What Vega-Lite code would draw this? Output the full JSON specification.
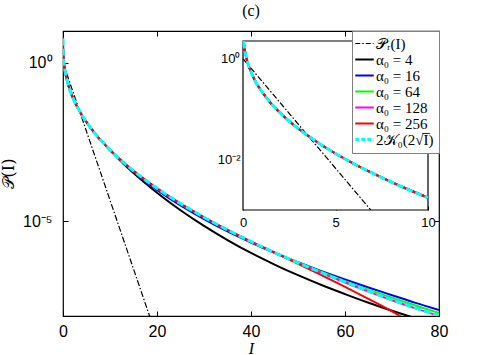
{
  "$schema": "https://vega.github.io/schema/vega-lite/v6.json",
  "width": 376,
  "height": 285,
  "autosize": {"type": "none"},
  "padding": {"left": 63, "top": 31, "right": 46, "bottom": 39},
  "background": "white",
  "title": {"text": "(c)", "font": "Liberation Serif", "fontSize": 16, "fontWeight": "normal", "color": "black", "offset": 12, "anchor": "middle"},
  "config": {
    "view": {"stroke": "black", "strokeWidth": 1.2},
    "axis": {"grid": false, "domain": false, "tickColor": "black", "labelColor": "black", "labelFont": "Liberation Sans", "titleColor": "black", "labelFlush": false, "labelOverlap": false},
    "legend": {
      "orient": "top-right", "offset": 0, "symbolType": "stroke", "symbolSize": 340, "symbolStrokeWidth": 2,
      "labelFont": "Liberation Serif", "labelFontSize": 15, "labelColor": "black", "fillColor": "white",
      "strokeColor": "#808080", "padding": 5, "rowPadding": 0, "labelOffset": 4, "labelLimit": 300
    }
  },
  "datasets": {
    "curves": [
      {"I": 0, "P": 1, "s": "PR"},
      {"I": 2, "P": 0.13534, "s": "PR"},
      {"I": 4, "P": 0.018316, "s": "PR"},
      {"I": 6.9, "P": 0.0010078, "s": "PR"},
      {"I": 10, "P": 4.54e-5, "s": "PR"},
      {"I": 15, "P": 3.059e-7, "s": "PR"},
      {"I": 18.4, "P": 1.0225e-8, "s": "PR"},
      {"I": 19, "P": 5.603e-9, "s": "PR"},

      {"I": 0.001, "P": 5.761, "s": "a4"}, {"I": 0.01, "P": 3.505, "s": "a4"}, {"I": 0.04, "P": 2.229, "s": "a4"}, {"I": 0.1, "P": 1.4726, "s": "a4"}, {"I": 0.2, "P": 0.9815, "s": "a4"}, {"I": 0.3, "P": 0.7359, "s": "a4"}, {"I": 0.5, "P": 0.4783, "s": "a4"}, {"I": 0.7, "P": 0.3424, "s": "a4"}, {"I": 1, "P": 0.2278, "s": "a4"}, {"I": 1.5, "P": 0.1324, "s": "a4"}, {"I": 2, "P": 0.08478, "s": "a4"}, {"I": 2.5, "P": 0.0576, "s": "a4"}, {"I": 3, "P": 0.04084, "s": "a4"}, {"I": 4, "P": 0.02232, "s": "a4"}, {"I": 5, "P": 0.013204, "s": "a4"}, {"I": 6, "P": 0.008248, "s": "a4"}, {"I": 7, "P": 0.005368, "s": "a4"}, {"I": 8, "P": 0.003607, "s": "a4"}, {"I": 9, "P": 0.002488, "s": "a4"}, {"I": 10, "P": 0.001753, "s": "a4"},
      {"I": 12, "P": 8.564e-4, "s": "a4"}, {"I": 15, "P": 3.265e-4, "s": "a4"}, {"I": 20, "P": 7.818e-5, "s": "a4"}, {"I": 25, "P": 2.193e-5, "s": "a4"}, {"I": 30, "P": 7.032e-6, "s": "a4"}, {"I": 35, "P": 2.509e-6, "s": "a4"}, {"I": 40, "P": 9.78e-7, "s": "a4"}, {"I": 45, "P": 4.214e-7, "s": "a4"}, {"I": 50, "P": 1.942e-7, "s": "a4"}, {"I": 55, "P": 9.51e-8, "s": "a4"}, {"I": 60, "P": 4.928e-8, "s": "a4"}, {"I": 65, "P": 2.626e-8, "s": "a4"}, {"I": 70, "P": 1.469e-8, "s": "a4"}, {"I": 74, "P": 9.47e-9, "s": "a4"},

      {"I": 0.001, "P": 5.761, "s": "a16"}, {"I": 0.01, "P": 3.505, "s": "a16"}, {"I": 0.04, "P": 2.229, "s": "a16"}, {"I": 0.1, "P": 1.4726, "s": "a16"}, {"I": 0.2, "P": 0.9815, "s": "a16"}, {"I": 0.3, "P": 0.7359, "s": "a16"}, {"I": 0.5, "P": 0.4783, "s": "a16"}, {"I": 0.7, "P": 0.3424, "s": "a16"}, {"I": 1, "P": 0.2278, "s": "a16"}, {"I": 1.5, "P": 0.1324, "s": "a16"}, {"I": 2, "P": 0.08478, "s": "a16"}, {"I": 2.5, "P": 0.0576, "s": "a16"}, {"I": 3, "P": 0.04084, "s": "a16"}, {"I": 4, "P": 0.02232, "s": "a16"}, {"I": 5, "P": 0.013204, "s": "a16"}, {"I": 6, "P": 0.008248, "s": "a16"}, {"I": 7, "P": 0.005368, "s": "a16"}, {"I": 8, "P": 0.003607, "s": "a16"}, {"I": 9, "P": 0.002488, "s": "a16"}, {"I": 10, "P": 0.001753, "s": "a16"},
      {"I": 12, "P": 8.968e-4, "s": "a16"}, {"I": 15, "P": 3.58e-4, "s": "a16"}, {"I": 20, "P": 9.618e-5, "s": "a16"}, {"I": 25, "P": 3.097e-5, "s": "a16"}, {"I": 30, "P": 1.14e-5, "s": "a16"}, {"I": 35, "P": 4.673e-6, "s": "a16"}, {"I": 40, "P": 2.092e-6, "s": "a16"}, {"I": 45, "P": 9.879e-7, "s": "a16"}, {"I": 50, "P": 4.992e-7, "s": "a16"}, {"I": 55, "P": 2.62e-7, "s": "a16"}, {"I": 60, "P": 1.421e-7, "s": "a16"}, {"I": 65, "P": 7.931e-8, "s": "a16"}, {"I": 70, "P": 4.539e-8, "s": "a16"}, {"I": 75, "P": 2.597e-8, "s": "a16"}, {"I": 80, "P": 1.552e-8, "s": "a16"},

      {"I": 0.001, "P": 5.761, "s": "a64"}, {"I": 0.01, "P": 3.505, "s": "a64"}, {"I": 0.04, "P": 2.229, "s": "a64"}, {"I": 0.1, "P": 1.4726, "s": "a64"}, {"I": 0.2, "P": 0.9815, "s": "a64"}, {"I": 0.3, "P": 0.7359, "s": "a64"}, {"I": 0.5, "P": 0.4783, "s": "a64"}, {"I": 0.7, "P": 0.3424, "s": "a64"}, {"I": 1, "P": 0.2278, "s": "a64"}, {"I": 1.5, "P": 0.1324, "s": "a64"}, {"I": 2, "P": 0.08478, "s": "a64"}, {"I": 2.5, "P": 0.0576, "s": "a64"}, {"I": 3, "P": 0.04084, "s": "a64"}, {"I": 4, "P": 0.02232, "s": "a64"}, {"I": 5, "P": 0.013204, "s": "a64"}, {"I": 6, "P": 0.008248, "s": "a64"}, {"I": 7, "P": 0.005368, "s": "a64"}, {"I": 8, "P": 0.003607, "s": "a64"}, {"I": 9, "P": 0.002488, "s": "a64"}, {"I": 10, "P": 0.001753, "s": "a64"},
      {"I": 12, "P": 9.176e-4, "s": "a64"}, {"I": 15, "P": 3.837e-4, "s": "a64"}, {"I": 20, "P": 1.0792e-4, "s": "a64"}, {"I": 25, "P": 3.556e-5, "s": "a64"}, {"I": 30, "P": 1.3094e-5, "s": "a64"}, {"I": 35, "P": 5.243e-6, "s": "a64"}, {"I": 40, "P": 2.2414e-6, "s": "a64"}, {"I": 45, "P": 1.0109e-6, "s": "a64"}, {"I": 50, "P": 4.879e-7, "s": "a64"}, {"I": 55, "P": 2.445e-7, "s": "a64"}, {"I": 60, "P": 1.267e-7, "s": "a64"}, {"I": 65, "P": 6.828e-8, "s": "a64"}, {"I": 70, "P": 3.776e-8, "s": "a64"}, {"I": 75, "P": 2.136e-8, "s": "a64"}, {"I": 80, "P": 1.233e-8, "s": "a64"},

      {"I": 0.001, "P": 5.761, "s": "a128"}, {"I": 0.01, "P": 3.505, "s": "a128"}, {"I": 0.04, "P": 2.229, "s": "a128"}, {"I": 0.1, "P": 1.4726, "s": "a128"}, {"I": 0.2, "P": 0.9815, "s": "a128"}, {"I": 0.3, "P": 0.7359, "s": "a128"}, {"I": 0.5, "P": 0.4783, "s": "a128"}, {"I": 0.7, "P": 0.3424, "s": "a128"}, {"I": 1, "P": 0.2278, "s": "a128"}, {"I": 1.5, "P": 0.1324, "s": "a128"}, {"I": 2, "P": 0.08478, "s": "a128"}, {"I": 2.5, "P": 0.0576, "s": "a128"}, {"I": 3, "P": 0.04084, "s": "a128"}, {"I": 4, "P": 0.02232, "s": "a128"}, {"I": 5, "P": 0.013204, "s": "a128"}, {"I": 6, "P": 0.008248, "s": "a128"}, {"I": 7, "P": 0.005368, "s": "a128"}, {"I": 8, "P": 0.003607, "s": "a128"}, {"I": 9, "P": 0.002488, "s": "a128"}, {"I": 10, "P": 0.001753, "s": "a128"},
      {"I": 12, "P": 9.176e-4, "s": "a128"}, {"I": 15, "P": 3.837e-4, "s": "a128"}, {"I": 20, "P": 1.0792e-4, "s": "a128"}, {"I": 25, "P": 3.556e-5, "s": "a128"}, {"I": 30, "P": 1.3094e-5, "s": "a128"}, {"I": 35, "P": 5.243e-6, "s": "a128"}, {"I": 40, "P": 2.2414e-6, "s": "a128"}, {"I": 45, "P": 1.0109e-6, "s": "a128"}, {"I": 50, "P": 4.767e-7, "s": "a128"}, {"I": 55, "P": 2.282e-7, "s": "a128"}, {"I": 60, "P": 1.142e-7, "s": "a128"}, {"I": 65, "P": 5.879e-8, "s": "a128"}, {"I": 70, "P": 3.141e-8, "s": "a128"}, {"I": 75, "P": 1.736e-8, "s": "a128"}, {"I": 80, "P": 1.002e-8, "s": "a128"},

      {"I": 0.001, "P": 5.761, "s": "a256"}, {"I": 0.01, "P": 3.505, "s": "a256"}, {"I": 0.04, "P": 2.229, "s": "a256"}, {"I": 0.1, "P": 1.4726, "s": "a256"}, {"I": 0.2, "P": 0.9815, "s": "a256"}, {"I": 0.3, "P": 0.7359, "s": "a256"}, {"I": 0.5, "P": 0.4783, "s": "a256"}, {"I": 0.7, "P": 0.3424, "s": "a256"}, {"I": 1, "P": 0.2278, "s": "a256"}, {"I": 1.5, "P": 0.1324, "s": "a256"}, {"I": 2, "P": 0.08478, "s": "a256"}, {"I": 2.5, "P": 0.0576, "s": "a256"}, {"I": 3, "P": 0.04084, "s": "a256"}, {"I": 4, "P": 0.02232, "s": "a256"}, {"I": 5, "P": 0.013204, "s": "a256"}, {"I": 6, "P": 0.008248, "s": "a256"}, {"I": 7, "P": 0.005368, "s": "a256"}, {"I": 8, "P": 0.003607, "s": "a256"}, {"I": 9, "P": 0.002488, "s": "a256"}, {"I": 10, "P": 0.001753, "s": "a256"},
      {"I": 12, "P": 9.176e-4, "s": "a256"}, {"I": 15, "P": 3.837e-4, "s": "a256"}, {"I": 20, "P": 1.0792e-4, "s": "a256"}, {"I": 25, "P": 3.556e-5, "s": "a256"}, {"I": 30, "P": 1.3094e-5, "s": "a256"}, {"I": 35, "P": 5.243e-6, "s": "a256"}, {"I": 40, "P": 2.2414e-6, "s": "a256"}, {"I": 45, "P": 1.0109e-6, "s": "a256"}, {"I": 50, "P": 4.449e-7, "s": "a256"}, {"I": 55, "P": 1.942e-7, "s": "a256"}, {"I": 60, "P": 8.369e-8, "s": "a256"}, {"I": 65, "P": 3.461e-8, "s": "a256"}, {"I": 70, "P": 1.403e-8, "s": "a256"}, {"I": 72, "P": 9.35e-9, "s": "a256"},

      {"I": 0.001, "P": 5.761, "s": "K"}, {"I": 0.01, "P": 3.505, "s": "K"}, {"I": 0.04, "P": 2.229, "s": "K"}, {"I": 0.1, "P": 1.4726, "s": "K"}, {"I": 0.2, "P": 0.9815, "s": "K"}, {"I": 0.3, "P": 0.7359, "s": "K"}, {"I": 0.5, "P": 0.4783, "s": "K"}, {"I": 0.7, "P": 0.3424, "s": "K"}, {"I": 1, "P": 0.2278, "s": "K"}, {"I": 1.5, "P": 0.1324, "s": "K"}, {"I": 2, "P": 0.08478, "s": "K"}, {"I": 2.5, "P": 0.0576, "s": "K"}, {"I": 3, "P": 0.04084, "s": "K"}, {"I": 4, "P": 0.02232, "s": "K"}, {"I": 5, "P": 0.013204, "s": "K"}, {"I": 6, "P": 0.008248, "s": "K"}, {"I": 7, "P": 0.005368, "s": "K"}, {"I": 8, "P": 0.003607, "s": "K"}, {"I": 9, "P": 0.002488, "s": "K"}, {"I": 10, "P": 0.001753, "s": "K"},
      {"I": 12, "P": 9.176e-4, "s": "K"}, {"I": 15, "P": 3.837e-4, "s": "K"}, {"I": 20, "P": 1.0792e-4, "s": "K"}, {"I": 25, "P": 3.556e-5, "s": "K"}, {"I": 30, "P": 1.3094e-5, "s": "K"}, {"I": 35, "P": 5.243e-6, "s": "K"}, {"I": 40, "P": 2.2414e-6, "s": "K"}, {"I": 45, "P": 1.0109e-6, "s": "K"}, {"I": 50, "P": 4.767e-7, "s": "K"}, {"I": 55, "P": 2.3353e-7, "s": "K"}, {"I": 60, "P": 1.182e-7, "s": "K"}, {"I": 65, "P": 6.156e-8, "s": "K"}, {"I": 70, "P": 3.2886e-8, "s": "K"}, {"I": 75, "P": 1.7974e-8, "s": "K"}, {"I": 80, "P": 1.0022e-8, "s": "K"}
    ]
  },
  "data": {"name": "curves"},
  "resolve": {"scale": {"x": "independent", "y": "independent"}},
  "layer": [
    {
      "resolve": {"axis": {"x": "independent", "y": "independent"}},
      "layer": [
        {
          "transform": [{"filter": {"field": "s", "equal": "PR"}}],
          "mark": {"type": "line", "clip": true, "strokeWidth": 1.2, "strokeDash": [6, 2, 1.5, 2]},
          "encoding": {
            "x": {"field": "I", "type": "quantitative", "scale": {"domain": [0, 80], "nice": false, "zero": false},
                  "axis": {"orient": "bottom", "values": [0, 20, 40, 60, 80], "tickSize": -5, "labelPadding": 12, "labelFontSize": 16,
                           "title": "I", "titleFont": "Liberation Serif", "titleFontStyle": "italic", "titleFontWeight": "normal", "titleFontSize": 16, "titlePadding": 1}},
            "y": {"field": "P", "type": "quantitative", "scale": {"type": "log", "domain": [1e-8, 10], "nice": false},
                  "axis": {"orient": "left", "values": [1e-5, 1], "labelExpr": "datum.value >= 1 ? '10⁰' : '10⁻⁵'", "tickSize": -5, "labelPadding": 16, "labelFontSize": 16,
                           "title": "𝒫(I)", "titleFont": "DejaVu Serif", "titleFontWeight": "normal", "titleFontSize": 16, "titlePadding": 6}},
            "color": {"field": "s", "type": "nominal",
                      "scale": {"domain": ["PR", "a4", "a16", "a64", "a128", "a256", "K"], "range": ["#000000", "#000000", "#0000ff", "#00ff00", "#ff00ff", "#ff0000", "#00ffff"]},
                      "legend": {"title": null,
                                 "labelExpr": "datum.value === 'PR' ? '𝒫ᵣ(I)' : datum.value === 'a4' ? 'α₀ = 4' : datum.value === 'a16' ? 'α₀ = 16' : datum.value === 'a64' ? 'α₀ = 64' : datum.value === 'a128' ? 'α₀ = 128' : datum.value === 'a256' ? 'α₀ = 256' : '2𝒦₀(2√I̅)'",
                                 "encode": {"symbols": {"update": {
                                   "strokeDash": {"signal": "datum.value === 'PR' ? [5, 2, 1.5, 2] : datum.value === 'K' ? [4, 2] : [1, 0]"},
                                   "strokeWidth": {"signal": "datum.value === 'PR' ? 1.2 : datum.value === 'K' ? 3 : 2"}}}}}}
          }
        },
        {
          "transform": [{"filter": {"field": "s", "oneOf": ["a4", "a16", "a64", "a128", "a256"]}}],
          "mark": {"type": "line", "clip": true, "strokeWidth": 2, "interpolate": "monotone"},
          "encoding": {
            "x": {"field": "I", "type": "quantitative",
                  "axis": {"orient": "top", "values": [0, 20, 40, 60, 80], "tickSize": -5, "labels": false, "title": null}},
            "y": {"field": "P", "type": "quantitative",
                  "axis": {"orient": "right", "values": [1e-5, 1], "tickSize": -5, "labels": false, "title": null}},
            "color": {"field": "s", "type": "nominal"}
          }
        },
        {
          "transform": [{"filter": {"field": "s", "equal": "K"}}],
          "mark": {"type": "line", "clip": true, "strokeWidth": 3, "strokeDash": [7, 3], "interpolate": "monotone"},
          "encoding": {
            "x": {"field": "I", "type": "quantitative", "axis": null},
            "y": {"field": "P", "type": "quantitative", "axis": null},
            "color": {"field": "s", "type": "nominal"}
          }
        }
      ]
    },
    {
      "layer": [
        {
          "data": {"values": [{}]},
          "mark": {"type": "rect", "fill": "white", "stroke": "black", "strokeWidth": 1.2},
          "encoding": {
            "x": {"datum": 0, "type": "quantitative", "scale": {"domain": [0, 10], "range": [180, 365], "nice": false, "zero": false},
                  "axis": {"orient": "bottom", "offset": -106, "values": [0, 5, 10], "tickSize": -4, "labelPadding": 10, "labelFontSize": 13, "title": null}},
            "x2": {"datum": 10},
            "y": {"datum": 0.001, "type": "quantitative", "scale": {"type": "log", "domain": [0.001, 2.25], "range": [179, 10], "nice": false},
                  "axis": {"orient": "left", "offset": -180, "values": [0.01, 1], "labelExpr": "datum.value >= 1 ? '10⁰' : '10⁻²'", "tickSize": -4, "labelPadding": 7, "labelFontSize": 13, "title": null}},
            "y2": {"datum": 2.25}
          }
        },
        {
          "transform": [{"filter": "datum.s === 'PR' && datum.I <= 10 && datum.P >= 0.001"}],
          "mark": {"type": "line", "strokeWidth": 1.2, "strokeDash": [6, 2, 1.5, 2]},
          "encoding": {
            "x": {"field": "I", "type": "quantitative"},
            "y": {"field": "P", "type": "quantitative"},
            "color": {"field": "s", "type": "nominal"}
          }
        },
        {
          "transform": [{"filter": "datum.s !== 'PR' && datum.s !== 'K' && datum.I <= 10 && datum.P <= 2.25"}],
          "mark": {"type": "line", "strokeWidth": 2, "interpolate": "monotone"},
          "encoding": {
            "x": {"field": "I", "type": "quantitative"},
            "y": {"field": "P", "type": "quantitative"},
            "color": {"field": "s", "type": "nominal"}
          }
        },
        {
          "transform": [{"filter": "datum.s === 'K' && datum.I <= 10 && datum.P <= 2.25"}],
          "mark": {"type": "line", "strokeWidth": 3, "strokeDash": [7, 3], "interpolate": "monotone"},
          "encoding": {
            "x": {"field": "I", "type": "quantitative"},
            "y": {"field": "P", "type": "quantitative"},
            "color": {"field": "s", "type": "nominal"}
          }
        }
      ]
    }
  ]
}
